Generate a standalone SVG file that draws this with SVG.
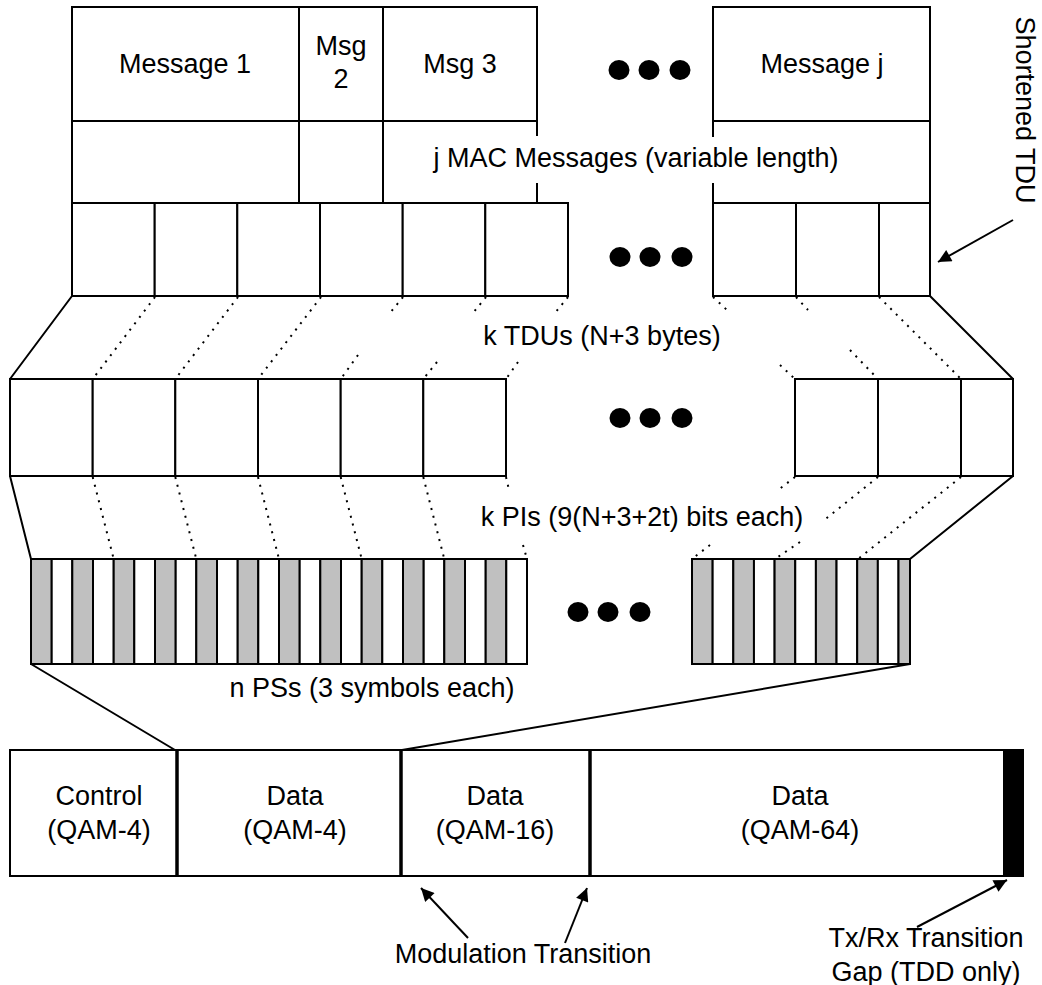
<svg xmlns="http://www.w3.org/2000/svg" width="1042" height="985" viewBox="0 0 1042 985">
<style>
  .box{fill:#fff;stroke:#000;stroke-width:2}
  .ln{fill:none;stroke:#000;stroke-width:2}
  .dot{fill:none;stroke:#000;stroke-width:2;stroke-dasharray:2 6}
  .thick{stroke:#000;stroke-width:3.5}
  .g{fill:#c0c0c0;stroke:#000;stroke-width:2}
  .w{fill:#fff;stroke:#000;stroke-width:2}
  text{font-family:"Liberation Sans",Arial,sans-serif;font-size:27px;fill:#000;text-anchor:middle}
  .el{fill:#000}
</style>
<defs>
  <marker id="ah" viewBox="0 0 10 10" refX="10" refY="5" markerWidth="16" markerHeight="13" markerUnits="userSpaceOnUse" orient="auto">
    <path d="M0,0 L10,5 L0,10 z" fill="#000"/>
  </marker>
</defs>

<g id="mac-messages">
  <rect class="box" x="72" y="7" width="227" height="114"/>
  <rect class="box" x="299" y="7" width="84" height="114"/>
  <rect class="box" x="383" y="7" width="154" height="114"/>
  <rect class="box" x="713" y="7" width="217" height="114"/>
  <text x="185" y="73">Message 1</text>
  <text x="341" y="55">Msg</text>
  <text x="341" y="88">2</text>
  <text x="460" y="73">Msg 3</text>
  <text x="822" y="73">Message j</text>
  <g id="mac-row2">
    <path class="ln" d="M72,121 V203 M299,121 V203 M383,121 V203 M537,121 V136 M537,183 V203 M713,121 V137 M713,183 V203 M930,121 V203"/>
    <text x="636" y="167">j MAC Messages (variable length)</text>
  </g>
  <g id="dots1">
    <ellipse class="el" cx="619" cy="70" rx="10.5" ry="10"/>
    <ellipse class="el" cx="649" cy="70" rx="10.5" ry="10"/>
    <ellipse class="el" cx="680" cy="70" rx="10.5" ry="10"/>
  </g>
</g>

<g id="tdus">
  <rect class="box" x="72" y="203" width="82.7" height="93"/>
  <rect class="box" x="154.7" y="203" width="82.6" height="93"/>
  <rect class="box" x="237.3" y="203" width="82.7" height="93"/>
  <rect class="box" x="320" y="203" width="82.7" height="93"/>
  <rect class="box" x="402.7" y="203" width="82.6" height="93"/>
  <rect class="box" x="485.3" y="203" width="82.7" height="93"/>
  <rect class="box" x="713" y="203" width="83" height="93"/>
  <rect class="box" x="796" y="203" width="83" height="93"/>
  <rect class="box" x="879" y="203" width="51" height="93"/>
  <g id="dots2">
    <ellipse class="el" cx="620" cy="257" rx="10.5" ry="10"/>
    <ellipse class="el" cx="650" cy="257" rx="10.5" ry="10"/>
    <ellipse class="el" cx="682" cy="257" rx="10.5" ry="10"/>
  </g>
  <text x="602" y="345">k TDUs (N+3 bytes)</text>
</g>

<g id="shortened-tdu">
  <text transform="translate(1016,110) rotate(90)">Shortened TDU</text>
</g>

<g id="pis">
  <rect class="box" x="10" y="379" width="82.7" height="97"/>
  <rect class="box" x="92.7" y="379" width="82.6" height="97"/>
  <rect class="box" x="175.3" y="379" width="82.7" height="97"/>
  <rect class="box" x="258" y="379" width="82.7" height="97"/>
  <rect class="box" x="340.7" y="379" width="82.6" height="97"/>
  <rect class="box" x="423.3" y="379" width="82.7" height="97"/>
  <rect class="box" x="795" y="379" width="83" height="97"/>
  <rect class="box" x="878" y="379" width="83" height="97"/>
  <rect class="box" x="961" y="379" width="52" height="97"/>
  <g id="dots3">
    <ellipse class="el" cx="620" cy="418" rx="10.5" ry="10"/>
    <ellipse class="el" cx="650" cy="418" rx="10.5" ry="10"/>
    <ellipse class="el" cx="682" cy="418" rx="10.5" ry="10"/>
  </g>
  <text x="642" y="526">k PIs (9(N+3+2t) bits each)</text>
</g>

<g id="pss">
  <rect class="g" x="31" y="559" width="20.7" height="105"/>
  <rect class="w" x="51.7" y="559" width="20.6" height="105"/>
  <rect class="g" x="72.3" y="559" width="20.7" height="105"/>
  <rect class="w" x="93" y="559" width="20.7" height="105"/>
  <rect class="g" x="113.7" y="559" width="20.6" height="105"/>
  <rect class="w" x="134.3" y="559" width="20.7" height="105"/>
  <rect class="g" x="155" y="559" width="20.7" height="105"/>
  <rect class="w" x="175.7" y="559" width="20.6" height="105"/>
  <rect class="g" x="196.3" y="559" width="20.7" height="105"/>
  <rect class="w" x="217" y="559" width="20.7" height="105"/>
  <rect class="g" x="237.7" y="559" width="20.6" height="105"/>
  <rect class="w" x="258.3" y="559" width="20.7" height="105"/>
  <rect class="g" x="279" y="559" width="20.7" height="105"/>
  <rect class="w" x="299.7" y="559" width="20.6" height="105"/>
  <rect class="g" x="320.3" y="559" width="20.7" height="105"/>
  <rect class="w" x="341" y="559" width="20.7" height="105"/>
  <rect class="g" x="361.7" y="559" width="20.6" height="105"/>
  <rect class="w" x="382.3" y="559" width="20.7" height="105"/>
  <rect class="g" x="403" y="559" width="20.7" height="105"/>
  <rect class="w" x="423.7" y="559" width="20.6" height="105"/>
  <rect class="g" x="444.3" y="559" width="20.7" height="105"/>
  <rect class="w" x="465" y="559" width="20.7" height="105"/>
  <rect class="g" x="485.7" y="559" width="20.6" height="105"/>
  <rect class="w" x="506.3" y="559" width="20.7" height="105"/>
  <rect class="g" x="692" y="559" width="20.65" height="105"/>
  <rect class="w" x="712.65" y="559" width="20.65" height="105"/>
  <rect class="g" x="733.3" y="559" width="20.65" height="105"/>
  <rect class="w" x="753.95" y="559" width="20.65" height="105"/>
  <rect class="g" x="774.6" y="559" width="20.65" height="105"/>
  <rect class="w" x="795.25" y="559" width="20.65" height="105"/>
  <rect class="g" x="815.9" y="559" width="20.65" height="105"/>
  <rect class="w" x="836.55" y="559" width="20.65" height="105"/>
  <rect class="g" x="857.2" y="559" width="20.65" height="105"/>
  <rect class="w" x="877.85" y="559" width="20.65" height="105"/>
  <rect class="g" x="898.5" y="559" width="11.5" height="105"/>
  <g id="dots4">
    <ellipse class="el" cx="578" cy="612" rx="10.5" ry="10"/>
    <ellipse class="el" cx="608" cy="612" rx="10.5" ry="10"/>
    <ellipse class="el" cx="640" cy="612" rx="10.5" ry="10"/>
  </g>
  <text x="372" y="697">n PSs (3 symbols each)</text>
</g>

<g id="frame">
  <rect class="box" x="10" y="750" width="1013" height="126"/>
  <rect x="1003" y="750" width="20" height="126" fill="#000"/>
  <line class="thick" x1="177" y1="750" x2="177" y2="876"/>
  <line class="thick" x1="401" y1="750" x2="401" y2="876"/>
  <line class="thick" x1="590" y1="750" x2="590" y2="876"/>
  <text x="99" y="805">Control</text>
  <text x="99" y="839">(QAM-4)</text>
  <text x="295" y="805">Data</text>
  <text x="295" y="839">(QAM-4)</text>
  <text x="495" y="805">Data</text>
  <text x="495" y="839">(QAM-16)</text>
  <text x="800" y="805">Data</text>
  <text x="800" y="839">(QAM-64)</text>
</g>

<g id="label-modulation">
  <text x="523" y="963">Modulation Transition</text>
</g>
<g id="label-gap">
  <text x="926" y="947">Tx/Rx Transition</text>
  <text x="926" y="981">Gap (TDD only)</text>
</g>

<g id="connectors">
  <path class="ln" d="M72,296 L10,379 M930,296 L1013,379 M10,476 L31,559 M1013,476 L910,559 M31,664 L175,750 M910,664 L402,750"/>
  <path class="dot" d="M155,297 L92.7,379 M238,297 L175.3,379 M321,297 L258,379 M403,297 L390,313 M358,355 L340.7,379 M486,297 L473,313 M437,362 L423.3,379 M568,297 L555,313 M518,362 L506,379 M713,297 L727,310 M780,365 L795,379 M796,297 L808,310 M850,350 L878,379 M879,297 L961,379"/>
  <path class="dot" d="M92.7,477 L113.7,559 M175.3,477 L196.3,559 M258,477 L279,559 M340.7,477 L361.7,559 M423.3,477 L444.3,559 M506,477 L509,490 M523,545 L527,559 M795,477 L777,491 M710,545 L692,559 M878,477 L823,521 M800,542 L775,559 M961,477 L858,559"/>
  <line class="ln" x1="1013" y1="220" x2="938" y2="262" marker-end="url(#ah)"/>
  <line class="ln" x1="468" y1="938" x2="421" y2="888" marker-end="url(#ah)"/>
  <line class="ln" x1="565" y1="943" x2="587" y2="888" marker-end="url(#ah)"/>
  <line class="ln" x1="917" y1="927" x2="1007" y2="880" marker-end="url(#ah)"/>
</g>
</svg>
